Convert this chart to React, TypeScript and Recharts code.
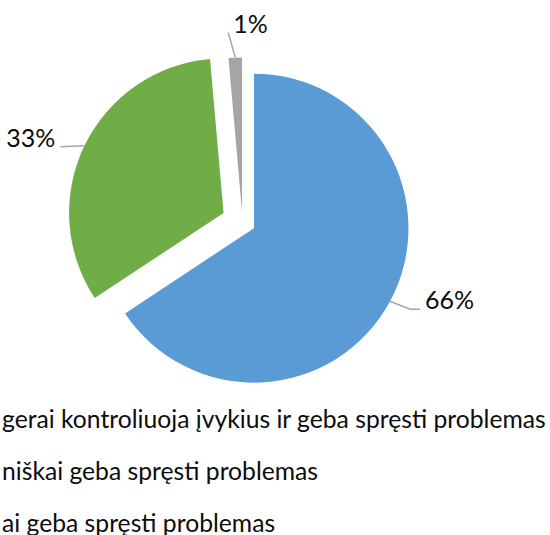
import React from 'react';
import { PieChart, Pie, Cell, Legend } from 'recharts';

// legend names (only the visible part of the original legend is known)
const categories = [
  'gerai kontroliuoja įvykius ir geba spręsti problemas',
  'niškai geba spręsti problemas',
  'ai geba spręsti problemas',
];
const shares = [65.7, 32.9, 1.4];
const percentLabels = ['66%', '33%', '1%'];

const COLORS = ['#5B9BD5', '#70AD47', '#A5A5A5'];
const EXPLODE = [13, 21, 10];
const CX = 242.5;
const CY = 222;
const R = 154.5;
const FONT = 'Lato, "Noto Sans", sans-serif';
const TEXT = '#0d0d0d';
const LINE = '#A6A6A6';

// label line points / text anchor relative to the slice's outer midpoint
const LABEL_GEOM = [
  { line: [[20, 8], [30, 8]], text: [35, 8], anchor: 'start' },
  { line: [[-24, 1]], text: [-29, 1], anchor: 'end' },
  { line: [[-7, -25]], text: [-2, -25], anchor: 'start' },
];

const data = categories.map((name, i) => ({
  name,
  value: shares[i],
  label: percentLabels[i],
}));

const total = shares.reduce((a, b) => a + b, 0);

// mid angle of each slice, pie starts at 12 o'clock and goes clockwise
const midAngles = shares.map((v, i) => {
  const before = shares.slice(0, i).reduce((a, b) => a + b, 0);
  return 90 - (360 * (before + v / 2)) / total;
});

const RAD = Math.PI / 180;

const makeLabel = (target: number) => (props: any) => {
  const { cx, cy, midAngle, outerRadius, index } = props;
  if (index !== target) return null;
  const ax = cx + outerRadius * Math.cos(midAngle * RAD);
  const ay = cy - outerRadius * Math.sin(midAngle * RAD);
  const g = LABEL_GEOM[index];
  const pts = [[ax, ay], ...g.line.map(([dx, dy]) => [ax + dx, ay + dy])];
  return (
    <g>
      <polyline
        points={pts.map((p) => p.join(',')).join(' ')}
        fill="none"
        stroke={LINE}
        strokeWidth={1.5}
      />
      <text
        x={ax + g.text[0]}
        y={ay + g.text[1]}
        textAnchor={g.anchor as any}
        fontFamily={FONT}
        fontSize={25}
        fill={TEXT}
      >
        {data[index].label}
      </text>
    </g>
  );
};

const renderLegend = (props: any) => {
  const seen = new Set<string>();
  const items = (props.payload || [])
    .filter((p: any) => {
      if (seen.has(p.value)) return false;
      seen.add(p.value);
      return true;
    })
    .sort((a: any, b: any) => categories.indexOf(a.value) - categories.indexOf(b.value));
  return (
    <div>
      {items.map((entry: any) => (
        <div
          key={entry.value}
          style={{
            height: 52,
            lineHeight: '52px',
            fontFamily: FONT,
            fontSize: 24.7,
            color: TEXT,
            whiteSpace: 'nowrap',
            paddingLeft: 2,
          }}
        >
          {entry.value}
        </div>
      ))}
    </div>
  );
};

export default function App() {
  return (
    <div style={{ position: 'absolute', left: 0, top: 0, width: 550, height: 535, background: '#fff' }}>
      <PieChart width={550} height={535} margin={{ top: 0, right: 0, bottom: 0, left: 0 }}>
        {data.map((_, k) => (
          <Pie
            key={k}
            data={data}
            dataKey="value"
            nameKey="name"
            cx={CX + EXPLODE[k] * Math.cos(midAngles[k] * RAD)}
            cy={CY - EXPLODE[k] * Math.sin(midAngles[k] * RAD)}
            outerRadius={R}
            startAngle={90}
            endAngle={-270}
            stroke="none"
            label={makeLabel(k)}
            labelLine={false}
            legendType={k === 0 ? 'square' : 'none'}
            isAnimationActive={false}
          >
            {data.map((d, i) => (
              <Cell key={d.name} fill={i === k ? COLORS[i] : 'none'} />
            ))}
          </Pie>
        ))}
        <Legend
          layout="horizontal"
          verticalAlign="bottom"
          align="left"
          content={renderLegend}
          wrapperStyle={{ top: 393, left: 0, bottom: 'auto', width: 550 }}
        />
      </PieChart>
    </div>
  );
}
